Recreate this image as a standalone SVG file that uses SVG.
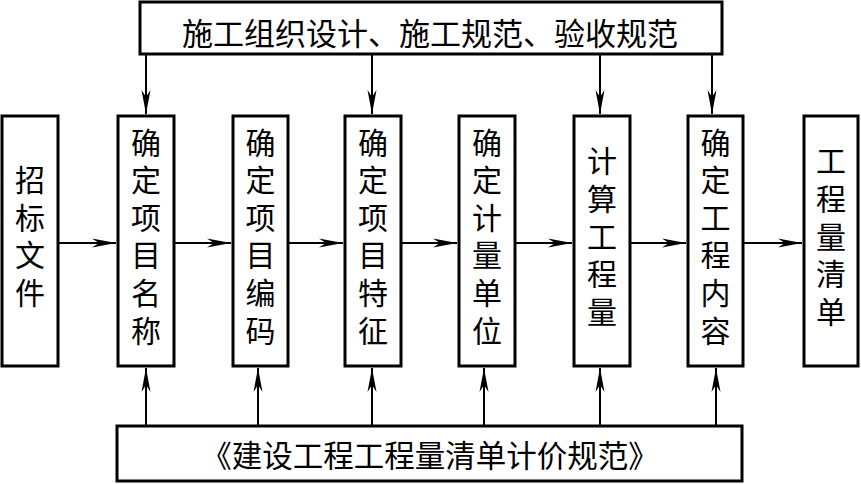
<svg xmlns="http://www.w3.org/2000/svg" width="861" height="484" viewBox="0 0 861 484">
<defs>
<style>
.box{fill:#fff;stroke:#000;stroke-width:3}
.t{font-family:"Noto Sans CJK SC","Noto Sans CJK TC",sans-serif;fill:#000;text-anchor:middle;dominant-baseline:central}
.v{font-family:"Noto Sans CJK SC","Noto Sans CJK TC",sans-serif;fill:#000;text-anchor:middle;writing-mode:vertical-rl;font-size:30px;letter-spacing:7.6px}
.c{stroke:#000;stroke-width:2;fill:none;marker-end:url(#ah)}
</style>
<marker id="ah" viewBox="-25 -5 26 10" refX="0" refY="0" markerWidth="26" markerHeight="10" markerUnits="userSpaceOnUse" orient="auto">
<path d="M0,0 L-24,-4.5 L-17,0 L-24,4.5 Z" fill="#000"/>
</marker>
</defs>
<rect width="861" height="484" fill="#fff"/>
<g id="connectors">
<line class="c" x1="146" y1="55" x2="146" y2="114"/>
<line class="c" x1="372" y1="55" x2="372" y2="114"/>
<line class="c" x1="600" y1="55" x2="600" y2="114"/>
<line class="c" x1="712" y1="55" x2="712" y2="114"/>
<line class="c" x1="146" y1="425" x2="146" y2="368"/>
<line class="c" x1="258" y1="425" x2="258" y2="368"/>
<line class="c" x1="372" y1="425" x2="372" y2="368"/>
<line class="c" x1="484" y1="425" x2="484" y2="368"/>
<line class="c" x1="600" y1="425" x2="600" y2="368"/>
<line class="c" x1="716" y1="425" x2="716" y2="368"/>
<line class="c" x1="59" y1="243" x2="116" y2="243"/>
<line class="c" x1="175" y1="243" x2="231" y2="243"/>
<line class="c" x1="288" y1="243" x2="343" y2="243"/>
<line class="c" x1="401" y1="243" x2="457" y2="243"/>
<line class="c" x1="515" y1="243" x2="572" y2="243"/>
<line class="c" x1="630" y1="243" x2="686" y2="243"/>
<line class="c" x1="743" y1="243" x2="802" y2="243"/>
</g>
<g id="top">
<rect class="box" x="140" y="2" width="582" height="52"/>
<text class="t" x="430" y="31" font-size="31">施工组织设计、施工规范、验收规范</text>
</g>
<g id="bottom">
<rect class="box" x="117" y="426" width="625" height="55"/>
<text class="t" x="430" y="454" font-size="30.5">《建设工程工程量清单计价规范》</text>
</g>
<g id="n1">
<rect class="box" x="2" y="116" width="56" height="250"/>
<text class="v" x="30" y="240">招标文件</text>
</g>
<g id="n2">
<rect class="box" x="118" y="116" width="56" height="250"/>
<text class="v" x="146" y="240">确定项目名称</text>
</g>
<g id="n3">
<rect class="box" x="233" y="116" width="55" height="250"/>
<text class="v" x="260.5" y="240">确定项目编码</text>
</g>
<g id="n4">
<rect class="box" x="345" y="116" width="56" height="250"/>
<text class="v" x="373" y="240">确定项目特征</text>
</g>
<g id="n5">
<rect class="box" x="459" y="116" width="56" height="250"/>
<text class="v" x="487" y="240">确定计量单位</text>
</g>
<g id="n6">
<rect class="box" x="574" y="116" width="56" height="250"/>
<text class="v" x="602" y="240">计算工程量</text>
</g>
<g id="n7">
<rect class="box" x="688" y="116" width="55" height="250"/>
<text class="v" x="715.5" y="240">确定工程内容</text>
</g>
<g id="n8">
<rect class="box" x="804" y="116" width="54" height="250"/>
<text class="v" x="831" y="240">工程量清单</text>
</g>
</svg>
